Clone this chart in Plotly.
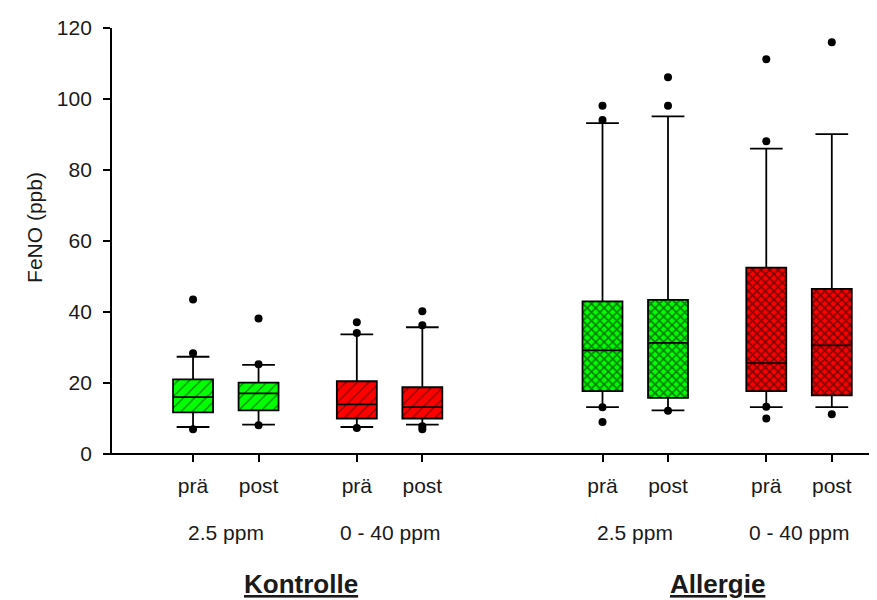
import plotly.graph_objects as go

# ---------------- data ----------------
group_names = ["Kontrolle", "Allergie"]
dose_labels = ["2.5 ppm", "0 - 40 ppm", "2.5 ppm", "0 - 40 ppm"]
time_labels = ["prä", "post", "prä", "post", "prä", "post", "prä", "post"]

q1 = [11.7, 12.3, 10.0, 10.0, 17.7, 15.8, 17.7, 16.5]
median = [16.0, 17.1, 14.0, 13.2, 29.2, 31.3, 25.6, 30.6]
q3 = [21.0, 20.1, 20.5, 18.8, 43.0, 43.4, 52.5, 46.5]
whisker_low = [7.6, 8.3, 7.6, 8.3, 13.2, 12.3, 13.2, 13.2]
whisker_high = [27.4, 25.1, 33.7, 35.7, 93.2, 95.1, 86.0, 90.1]
outliers = [
    [43.5, 28.4, 7.0],
    [38.2, 25.3, 8.1],
    [37.1, 34.1, 7.3],
    [40.2, 36.3, 7.8, 7.0],
    [98.1, 94.1, 13.2, 9.0],
    [106.1, 98.1, 12.2],
    [111.2, 88.1, 13.3, 10.0],
    [116.0, 11.2],
]
y_ticks = [0, 20, 40, 60, 80, 100, 120]

# ---------------- layout constants ----------------
xpos = [1, 2, 3.5, 4.5, 7.25, 8.25, 9.75, 10.75]
box_w = 0.61
cap_w = 0.5
colors = ["#00FF00", "#00FF00", "#FF0000", "#FF0000",
          "#00FF00", "#00FF00", "#FF0000", "#FF0000"]
patterns = ["/", "/", "/", "/", "x", "x", "x", "x"]
font_family = "Liberation Sans, Arial, sans-serif"
txt_color = "#1a1a1a"

fig = go.Figure()

# boxes as bars with hatch pattern
for i in range(len(xpos)):
    hatch = patterns[i] == "/"
    fig.add_trace(go.Bar(
        x=[xpos[i]], y=[q3[i] - q1[i]], base=[q1[i]], width=box_w,
        marker=dict(color=colors[i],
                    line=dict(color="black", width=1.8),
                    pattern=dict(shape=patterns[i], fgcolor="black",
                                 bgcolor=colors[i],
                                 size=8 if hatch else 6,
                                 solidity=0.15 if hatch else 0.5,
                                 fillmode="overlay")),
        showlegend=False, hoverinfo="skip"))

# medians, whiskers and caps
lx, ly = [], []
for i in range(len(xpos)):
    x = xpos[i]
    lx += [x - box_w / 2, x + box_w / 2, None]
    ly += [median[i], median[i], None]
    lx += [x, x, None, x, x, None]
    ly += [q3[i], whisker_high[i], None, q1[i], whisker_low[i], None]
    lx += [x - cap_w / 2, x + cap_w / 2, None, x - cap_w / 2, x + cap_w / 2, None]
    ly += [whisker_high[i], whisker_high[i], None, whisker_low[i], whisker_low[i], None]
fig.add_trace(go.Scatter(x=lx, y=ly, mode="lines",
                         line=dict(color="black", width=1.8),
                         showlegend=False, hoverinfo="skip"))

# outliers
ox, oy = [], []
for i in range(len(xpos)):
    for v in outliers[i]:
        ox.append(xpos[i])
        oy.append(v)
fig.add_trace(go.Scatter(x=ox, y=oy, mode="markers",
                         marker=dict(color="black", size=8, symbol="circle"),
                         showlegend=False, hoverinfo="skip"))

annotations = []
dose_x = [(xpos[0] + xpos[1]) / 2, (xpos[2] + xpos[3]) / 2,
          (xpos[4] + xpos[5]) / 2, (xpos[6] + xpos[7]) / 2]
for xx, t in zip(dose_x, dose_labels):
    annotations.append(dict(x=xx, y=-0.184, xref="x", yref="paper", text=t,
                            showarrow=False, yanchor="middle",
                            font=dict(size=21, color=txt_color, family=font_family)))
grp_x = [2.65, (xpos[4] + xpos[7]) / 2]
for xx, t in zip(grp_x, group_names):
    annotations.append(dict(x=xx, y=-0.305, xref="x", yref="paper",
                            text="<b><u>" + t + "</u></b>",
                            showarrow=False, yanchor="middle",
                            font=dict(size=26, color=txt_color, family=font_family)))
annotations.append(dict(x=-0.1007, y=0.533, xref="paper", yref="paper",
                        text="FeNO (ppb)", textangle=-90, showarrow=False,
                        xanchor="center", yanchor="middle",
                        font=dict(size=21, color=txt_color, family=font_family)))

fig.update_layout(
    width=877, height=600,
    margin=dict(l=104, r=8, t=16, b=154),
    paper_bgcolor="white", plot_bgcolor="white",
    barmode="overlay",
    annotations=annotations,
    shapes=[dict(type="line", xref="paper", yref="paper",
                 x0=-8 / 765, x1=1, y0=0, y1=0,
                 line=dict(color="black", width=1.8))],
    xaxis=dict(range=[-0.237, 11.44], tickmode="array", tickvals=xpos,
               ticktext=time_labels, ticks="outside", ticklen=7,
               tickwidth=1.5, tickcolor="black", showgrid=False,
               zeroline=False, showline=False, ticklabelstandoff=6,
               tickfont=dict(size=21, color=txt_color, family=font_family)),
    yaxis=dict(range=[0, 120], tickmode="array", tickvals=y_ticks,
               ticks="outside", ticklen=7, tickwidth=1.5, tickcolor="black",
               showgrid=False, zeroline=False, showline=True,
               linecolor="black", linewidth=1.8, ticklabelstandoff=7,
               tickfont=dict(size=21, color=txt_color, family=font_family)),
)

fig.write_html("out.html")
